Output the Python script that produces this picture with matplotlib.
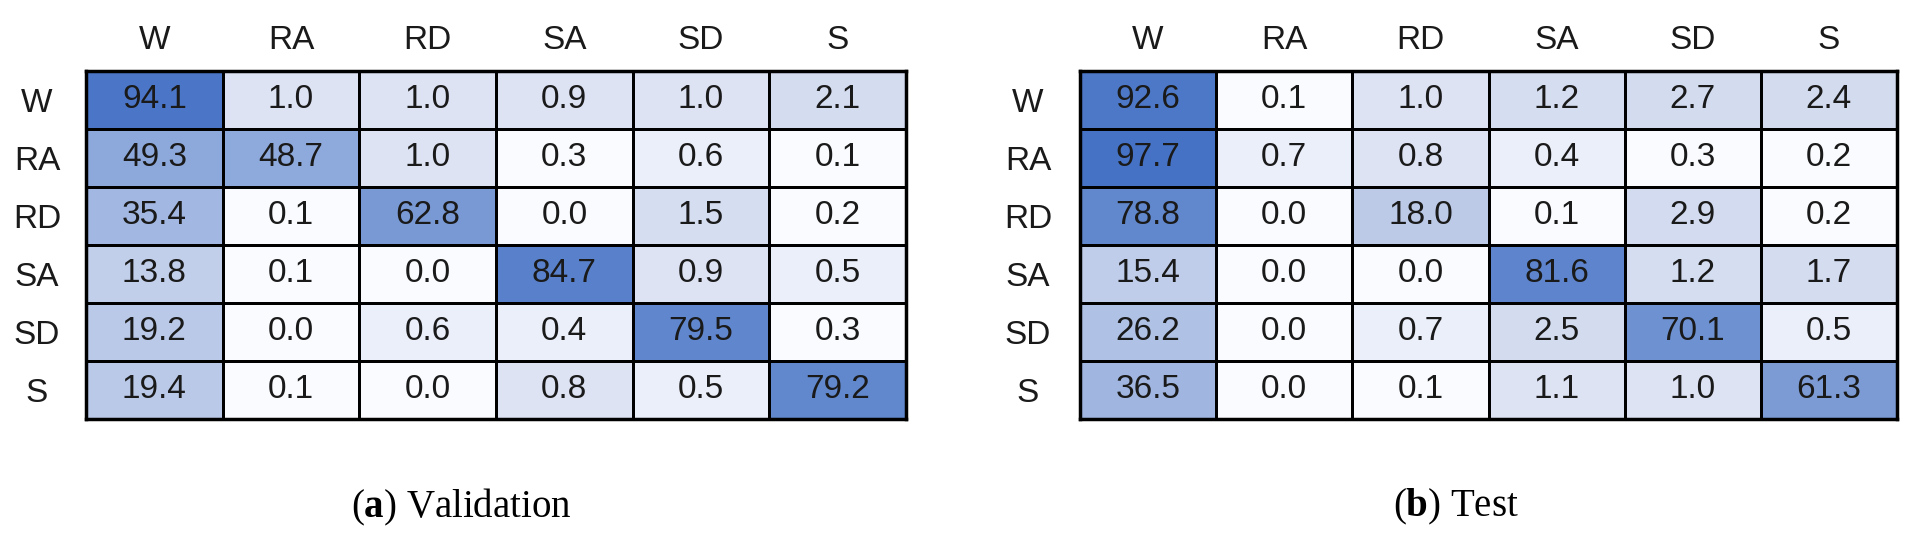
import numpy as np
import matplotlib
matplotlib.use("Agg")
import matplotlib.pyplot as plt
from matplotlib.colors import LinearSegmentedColormap, Normalize

labels = ["W", "RA", "RD", "SA", "SD", "S"]

val_values = [
    [94.1, 1.0, 1.0, 0.9, 1.0, 2.1],
    [49.3, 48.7, 1.0, 0.3, 0.6, 0.1],
    [35.4, 0.1, 62.8, 0.0, 1.5, 0.2],
    [13.8, 0.1, 0.0, 84.7, 0.9, 0.5],
    [19.2, 0.0, 0.6, 0.4, 79.5, 0.3],
    [19.4, 0.1, 0.0, 0.8, 0.5, 79.2],
]

test_values = [
    [92.6, 0.1, 1.0, 1.2, 2.7, 2.4],
    [97.7, 0.7, 0.8, 0.4, 0.3, 0.2],
    [78.8, 0.0, 18.0, 0.1, 2.9, 0.2],
    [15.4, 0.0, 0.0, 81.6, 1.2, 1.7],
    [26.2, 0.0, 0.7, 2.5, 70.1, 0.5],
    [36.5, 0.0, 0.1, 1.1, 1.0, 61.3],
]

captions = [r"($\mathbf{a}$) Validation", r"($\mathbf{b}$) Test"]

plt.rcParams["mathtext.fontset"] = "custom"
plt.rcParams["mathtext.rm"] = "Liberation Serif"
plt.rcParams["mathtext.bf"] = "Liberation Serif:bold"

W, H = 1913, 536
fig = plt.figure(figsize=(W / 100, H / 100), dpi=100)
fig.patch.set_facecolor("white")

cmap = LinearSegmentedColormap.from_list(
    "bl",
    [(0.0, (250/255, 251/255, 254/255)),
     (0.01, (213/255, 221/255, 240/255)),
     (1.0, (66/255, 112/255, 196/255))],
)
norm = Normalize(vmin=0, vmax=100)

FS = 24

def px_axes(x0, y0, x1, y1):
    return fig.add_axes([x0 / W, 1 - y1 / H, (x1 - x0) / W, (y1 - y0) / H])

panels = [
    (val_values, (86, 71, 906, 419), 49, 461),
    (test_values, (1080, 71, 1897, 419), 52, 1456),
]

for (vals, box, lab_off, cap_x), cap in zip(panels, captions):
    arr = np.array(vals)
    ax = px_axes(*box)
    n = arr.shape[0]
    ax.pcolormesh(np.arange(n + 1), np.arange(n + 1), arr, cmap=cmap, norm=norm,
                  edgecolors="black", linewidth=2.0)
    ax.set_xlim(0, n)
    ax.set_ylim(n, 0)
    for i in range(n):
        for j in range(n):
            ax.text(j + 0.5, i + 0.5, f"{arr[i, j]:.1f}", ha="center", va="center",
                    fontsize=FS, family="Liberation Sans", color="#1a1a1a")
    ax.xaxis.tick_top()
    ax.set_xticks(np.arange(n) + 0.5)
    ax.set_xticklabels(labels, fontsize=FS, family="Liberation Sans", color="#1a1a1a")
    ax.set_yticks(np.arange(n) + 0.5)
    ax.set_yticklabels(labels, fontsize=FS, family="Liberation Sans", color="#1a1a1a",
                       ha="center")
    ax.tick_params(axis="x", length=0, pad=11)
    ax.tick_params(axis="y", length=0, pad=lab_off * 0.72)
    for s in ax.spines.values():
        s.set_linewidth(2.5)
        s.set_color("black")
    fig.text(cap_x / W, 1 - 507 / H, cap, ha="center", va="center",
             fontsize=28, family="Liberation Serif", color="black")

fig.savefig("out.png", dpi=100, facecolor="white")
